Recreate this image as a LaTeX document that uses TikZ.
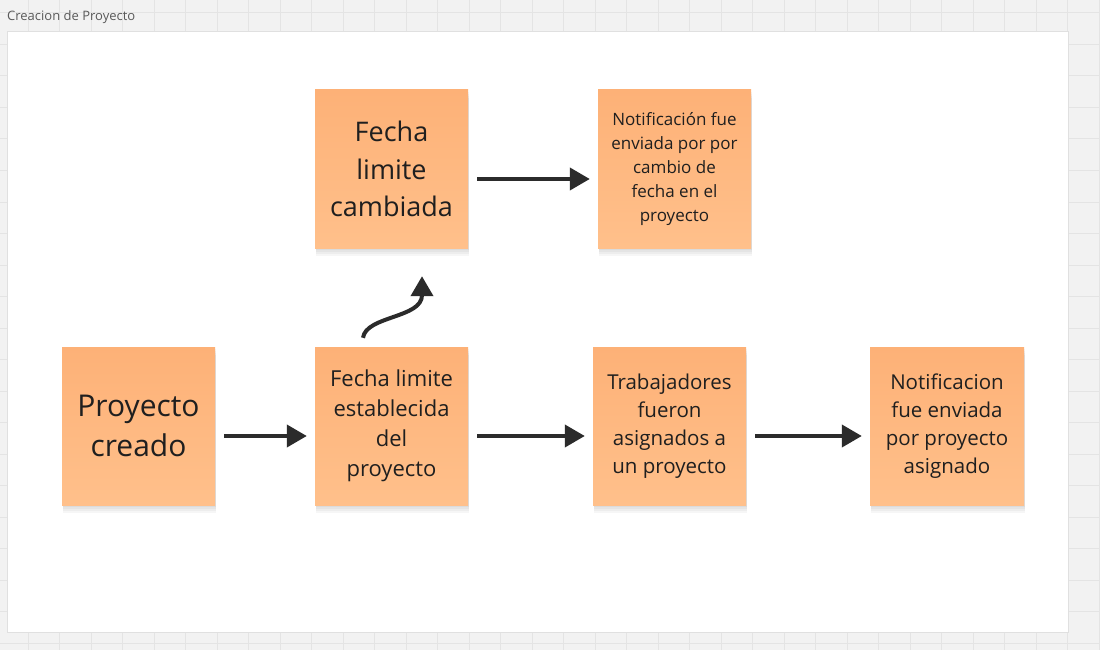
\documentclass[tikz,border=0pt]{standalone}
\usepackage{fontspec}
\setmainfont{Open Sans}
\usetikzlibrary{arrows.meta}
\definecolor{noteTop}{RGB}{253,177,119}
\definecolor{noteBot}{RGB}{255,192,139}
\definecolor{ink}{RGB}{43,43,43}
\definecolor{canvas}{RGB}{242,242,242}
\definecolor{gridline}{RGB}{228,228,228}
\begin{document}
\begin{tikzpicture}[x=1pt,y=-1pt,
    softshade/.style={preaction={fill=black, opacity=0.035, transform canvas={xshift=1pt,yshift=-#1}}},
    note/.style={minimum width=153pt, minimum height=158pt, inner sep=0pt,
      softshade=2pt, softshade=4pt, softshade=6pt, softshade=8pt,
      top color=noteTop, bottom color=noteBot, align=center, text=black!88},
    flow/.style={draw=ink, line width=4pt, -{Triangle[length=20pt,width=22pt]},
      shorten <=9pt, shorten >=8pt}]
    % canvas with grid
    \useasboundingbox (0,0) rectangle (1100,650);
    \fill[canvas] (0,0) rectangle (1100,650);
    \foreach \gx in {0,...,35}
      \draw[gridline, line width=1pt] (-3.5+31.5*\gx,0) -- (-3.5+31.5*\gx,650);
    \foreach \gy in {0,...,20}
      \draw[gridline, line width=1pt] (0,13+31.5*\gy) -- (1100,13+31.5*\gy);
    \filldraw[fill=white, draw=black!12, line width=1pt] (7,32) rectangle (1068,632);
    \node[anchor=base west, inner sep=0pt, text=black!65, font=\fontsize{13}{15}\selectfont] (title) at (7,21) {Creacion de Proyecto};

    % sticky notes
    \node[note, font=\fontsize{30}{40}\selectfont] (creado) at (138.5,426) {Proyecto\\creado};
    \node[note, font=\fontsize{22}{30}\selectfont] (establecida) at (391.5,426) {Fecha limite\\establecida\\del\\proyecto};
    \node[note, font=\fontsize{20.5}{28}\selectfont] (asignados) at (669.5,426) {Trabajadores\\fueron\\asignados a\\un proyecto};
    \node[note, minimum width=154pt, font=\fontsize{20.5}{28}\selectfont] (notifAsig) at (947,426) {Notificacion\\fue enviada\\por proyecto\\asignado};
    \node[note, font=\fontsize{27}{37.5}\selectfont] (cambiada) at (391.5,169) {Fecha\\limite\\cambiada};
    \node[note, font=\fontsize{17}{24}\selectfont] (notifFecha) at (674.5,169) {Notificación fue\\enviada por por\\cambio de\\fecha en el\\proyecto};

    % arrows
    \draw[flow] ([yshift=-10pt]creado.east) -- ([yshift=-10pt]establecida.west);
    \draw[flow] ([yshift=-10pt]establecida.east) -- ([yshift=-10pt]asignados.west);
    \draw[flow] ([yshift=-10pt]asignados.east) -- ([yshift=-10pt]notifAsig.west);
    \draw[flow] ([yshift=-10pt]cambiada.east) -- ([yshift=-10pt]notifFecha.west);
    \draw[flow, shorten <=0pt, shorten >=0pt]
      ([xshift=-28.5pt,yshift=9pt]establecida.north) .. controls +(3,-22) and +(0,42) .. ([xshift=30.5pt,yshift=-28pt]cambiada.south);
\end{tikzpicture}
\end{document}
